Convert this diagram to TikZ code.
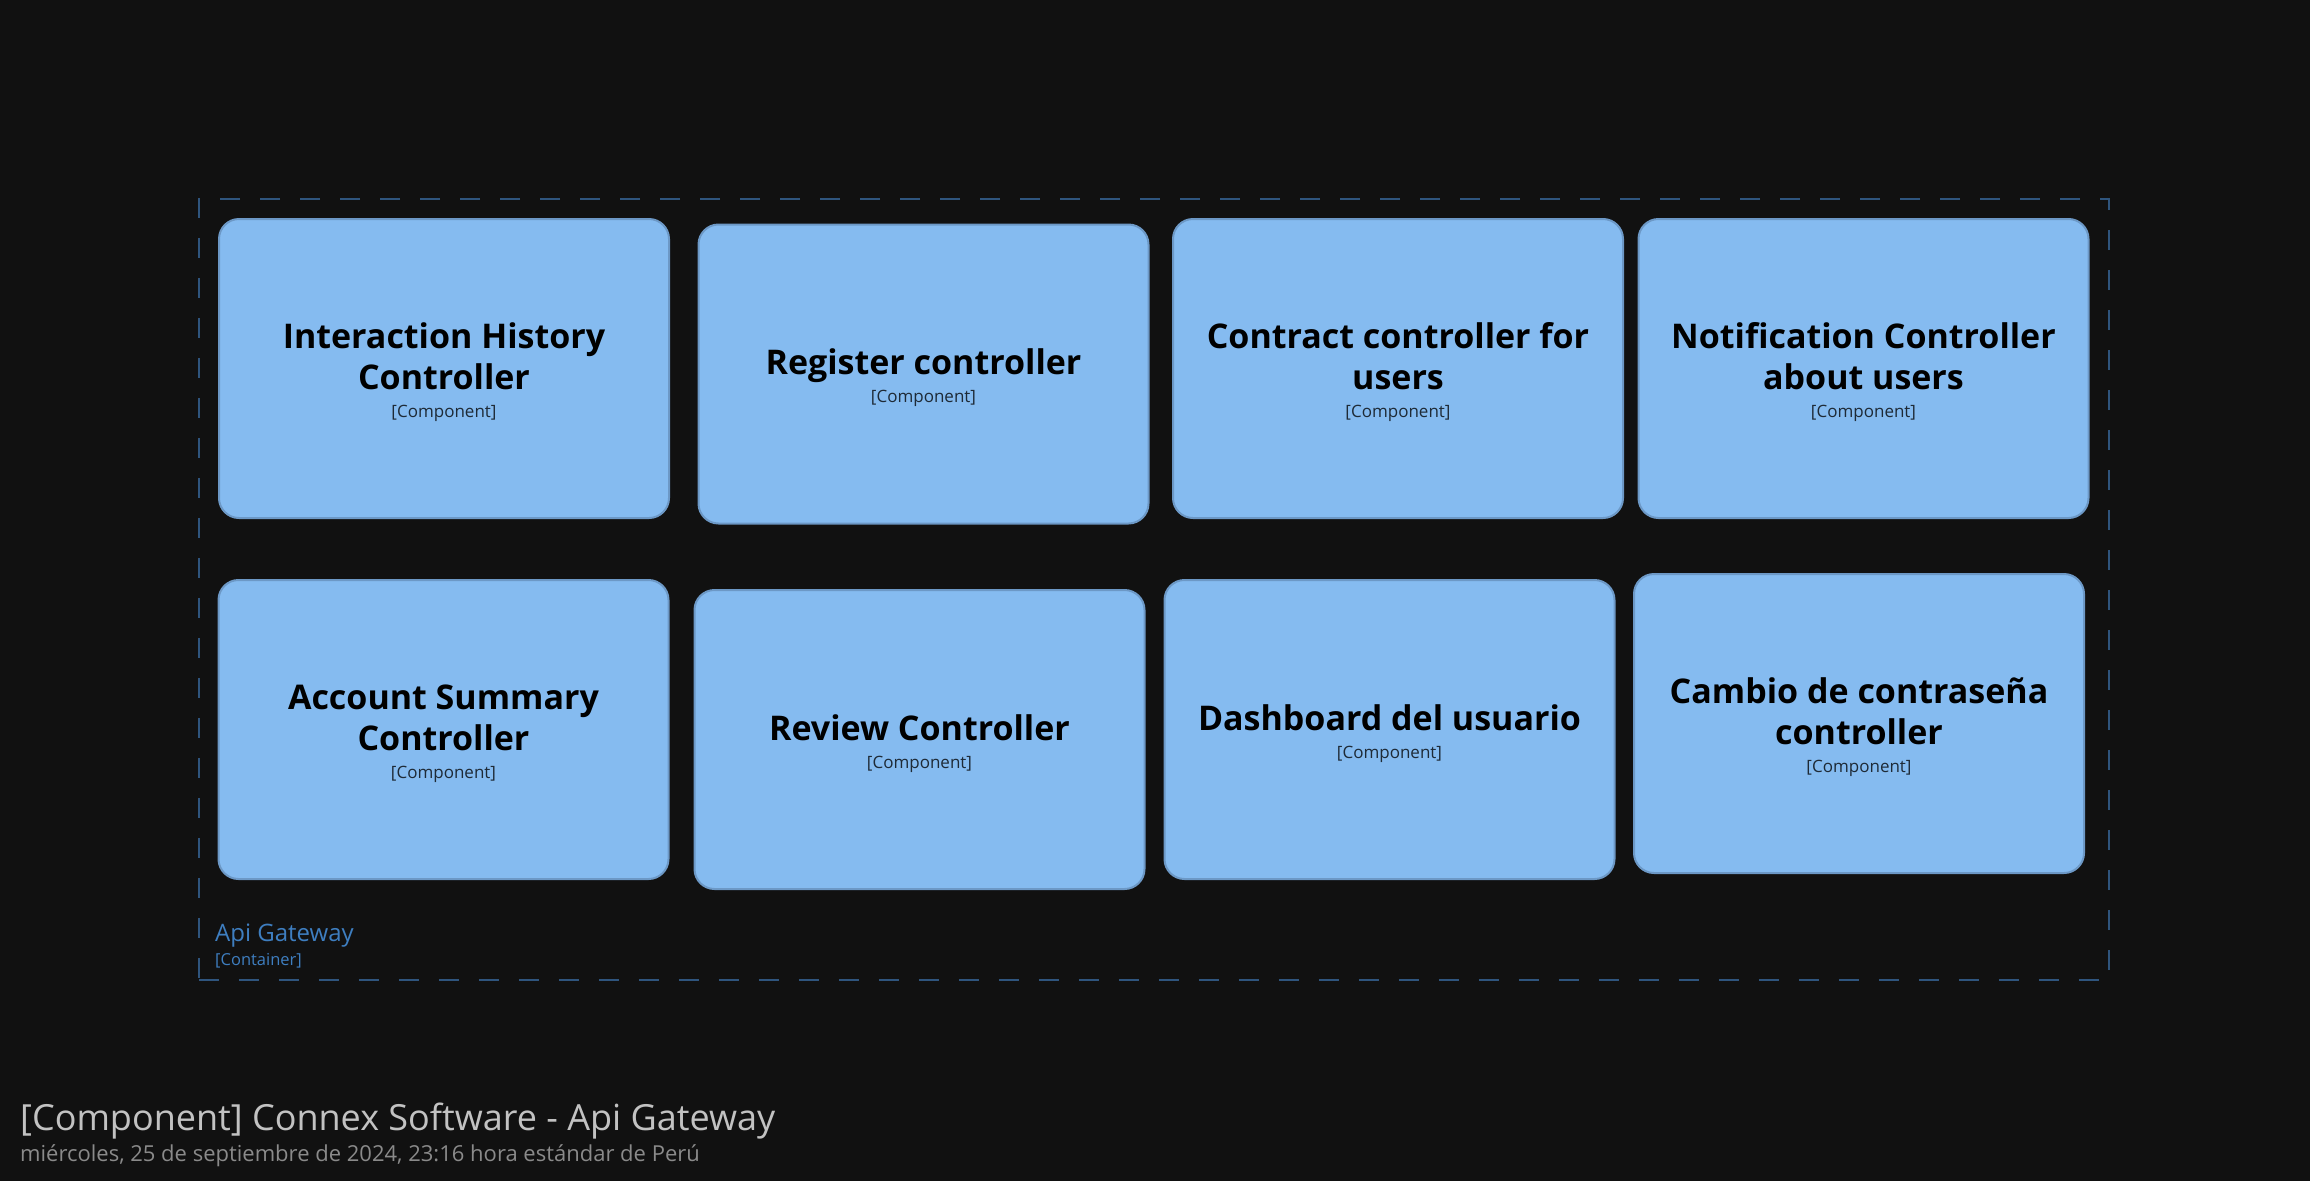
\documentclass[tikz,border=0pt]{standalone}
\usepackage{fontspec}
\setmainfont{Open Sans}
\usepackage{tikz}
\usetikzlibrary{positioning}

\definecolor{canvas}{HTML}{111111}
\definecolor{compfill}{HTML}{85BBF0}
\definecolor{compline}{HTML}{6C98C6}
\definecolor{compsub}{HTML}{1E2A36}
\definecolor{boundline}{HTML}{2F557E}
\definecolor{boundtext}{HTML}{3E7EC0}
\definecolor{titletext}{HTML}{C2C2C2}
\definecolor{datetext}{HTML}{8A8A8A}

\newcommand{\comptag}{{\fontsize{17}{20}\selectfont\mdseries\color{compsub}[Component]}}
\newcommand{\toplift}{\rule{0pt}{34pt}}

\begin{document}
\begin{tikzpicture}[x=1pt, y=-1pt,
    component/.style={draw=compline, fill=compfill, line width=2pt,
      rounded corners=20pt, minimum width=450pt, minimum height=299pt,
      inner sep=0pt, align=center, text=black,
      font=\fontsize{34}{41}\selectfont\bfseries},
    boundary/.style={draw=boundline, line width=2pt, dash pattern=on 20pt off 20pt,
      minimum width=1910pt, minimum height=781pt, inner sep=0pt},
  ]
  \fill[canvas] (0,0) rectangle (2310,1181);

  % container boundary
  \node[boundary] (gateway) at (1154,589.5) {};
  \node[anchor=base west, inner sep=0pt, text=boundtext,
    font=\fontsize{24}{29}\selectfont] (gatewayname) at (215,941) {Api Gateway};
  \node[anchor=base west, inner sep=0pt, text=boundtext,
    font=\fontsize{16.5}{20}\selectfont] (gatewaytype) at (215,965) {[Container]};

  % first row
  \node[component] (history) at (444,368.5) {\toplift Interaction History\\Controller\\[-13pt]\comptag};
  \node[component] (register) at (923.5,374) {\toplift Register controller\\[-13pt]\comptag};
  \node[component] (contract) at (1398,368.5) {\toplift Contract controller for\\users\\[-13pt]\comptag};
  \node[component] (notify) at (1863.5,368.5) {\toplift Notification Controller\\about users\\[-13pt]\comptag};

  % second row
  \node[component] (summary) at (443.5,729.5) {\toplift Account Summary\\Controller\\[-13pt]\comptag};
  \node[component] (review) at (919.5,739.5) {\toplift Review Controller\\[-13pt]\comptag};
  \node[component] (dashboard) at (1389.5,729.5) {\toplift Dashboard del usuario\\[-13pt]\comptag};
  \node[component] (password) at (1859,723.5) {\toplift Cambio de contraseña\\controller\\[-13pt]\comptag};

  % diagram title
  \node[anchor=base west, inner sep=0pt, text=titletext,
    font=\fontsize{36}{43}\selectfont] (diagtitle) at (20,1130) {[Component] Connex Software - Api Gateway};
  \node[anchor=base west, inner sep=0pt, text=datetext,
    font=\fontsize{22}{26}\selectfont] (diagdate) at (20,1161) {miércoles, 25 de septiembre de 2024, 23:16 hora estándar de Perú};
\end{tikzpicture}
\end{document}
